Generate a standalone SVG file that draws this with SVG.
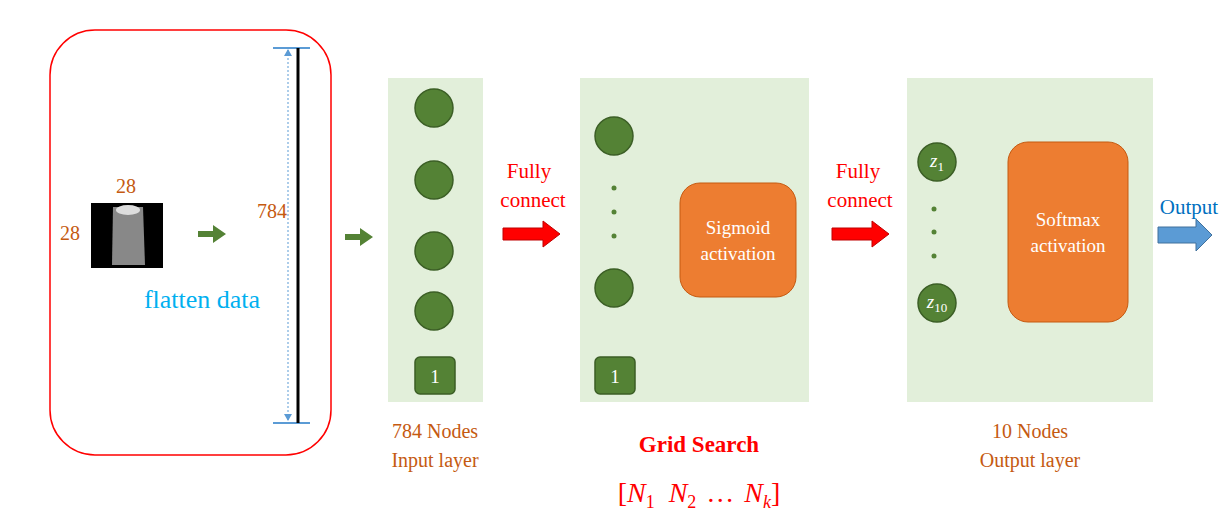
<svg xmlns="http://www.w3.org/2000/svg" width="1231" height="527" viewBox="0 0 1231 527">
<style>
text{font-family:"Liberation Serif",serif}
.or{fill:#c55a11;font-size:20px}
.panel{fill:#e2efda}
.node{fill:#548235;stroke:#3b5e25;stroke-width:1.5}
.wt{fill:#fff;font-size:19px}
.dot{fill:#548235}
.red{fill:#ff0000;stroke:#c00000;stroke-width:1}
.box{fill:#ed7d31;stroke:#c55a11;stroke-width:1}
</style>
<defs>
<marker id="ba" markerWidth="8" markerHeight="8" refX="7" refY="4" orient="auto" markerUnits="userSpaceOnUse"><path d="M0,0 L8,4 L0,8 z" fill="#0070c0"/></marker>
<marker id="da" markerWidth="10" markerHeight="10" refX="5" refY="5" orient="auto-start-reverse" markerUnits="userSpaceOnUse"><path d="M0,0 L5,10 L10,0 z" transform="rotate(0)" fill="#5b9bd5"/></marker>
</defs>
<g id="flatten">
<rect x="50" y="30" width="281" height="425" rx="45" fill="none" stroke="#ff0000" stroke-width="1.5"/>
<rect x="91" y="203" width="72" height="65" fill="#000"/>
<path d="M113,207 L143,207 L145,265 L112,265 Z" fill="#888"/>
<ellipse cx="128" cy="210" rx="12" ry="5" fill="#ddd"/>
<text x="126" y="193" class="or" text-anchor="middle">28</text>
<text x="70" y="240" class="or" text-anchor="middle">28</text>
<path d="M198,231 h15 v-6 l13,9 l-13,9 v-6 h-15 z" fill="#548235"/>
<text x="272" y="218" class="or" text-anchor="middle">784</text>
<text x="202" y="308" fill="#00b0f0" font-size="26" text-anchor="middle">flatten data</text>
<line x1="273" y1="48" x2="310" y2="48" stroke="#5b9bd5" stroke-width="2"/>
<line x1="273" y1="423" x2="310" y2="423" stroke="#5b9bd5" stroke-width="2"/>
<line x1="288" y1="50" x2="288" y2="421" stroke="#5b9bd5" stroke-width="1" stroke-dasharray="2,2"/>
<path d="M284,56 L288,49 L292,56 Z M284,414 L288,421 L292,414 Z" fill="#5b9bd5"/>
<line x1="298" y1="48" x2="298" y2="423" stroke="#000" stroke-width="3"/>
</g>
<g id="connectors">
<path d="M345,234 h15 v-6 l13,9 l-13,9 v-6 h-15 z" fill="#548235"/>
<path d="M503,228 h40 v-7 l17,13 l-17,13 v-7 h-40 z" class="red"/>
<path d="M832,228 h40 v-7 l17,13 l-17,13 v-7 h-40 z" class="red"/>
<path d="M656,233 h8 v-6 l10,9 l-10,9 v-6 h-8 z" fill="#000"/>
<line x1="958" y1="162" x2="1007" y2="162" stroke="#0070c0" marker-end="url(#ba)"/>
<line x1="958" y1="232" x2="1007" y2="232" stroke="#0070c0" marker-end="url(#ba)"/>
<line x1="958" y1="303" x2="1007" y2="303" stroke="#0070c0" marker-end="url(#ba)"/>
<path d="M1158,227 h38 v-8 l16,16 l-16,16 v-8 h-38 z" fill="#5b9bd5" stroke="#41719c"/>
<text x="529" y="178" fill="#ff0000" font-size="21" text-anchor="middle">Fully</text>
<text x="533" y="207" fill="#ff0000" font-size="21" text-anchor="middle">connect</text>
<text x="858" y="178" fill="#ff0000" font-size="21" text-anchor="middle">Fully</text>
<text x="860" y="207" fill="#ff0000" font-size="21" text-anchor="middle">connect</text>
<text x="1189" y="214" fill="#0070c0" font-size="21" text-anchor="middle">Output</text>
</g>
<g id="input-layer">
<rect x="388" y="78" width="95" height="324" class="panel"/>
<circle cx="434" cy="108" r="19" class="node"/>
<circle cx="434" cy="180" r="19" class="node"/>
<circle cx="434" cy="251" r="19" class="node"/>
<circle cx="434" cy="311" r="19" class="node"/>
<rect x="415" y="357" width="40" height="37" rx="5" class="node"/>
<text x="435" y="383" class="wt" text-anchor="middle">1</text>
<text x="435" y="438" class="or" text-anchor="middle">784 Nodes</text>
<text x="435" y="467" class="or" text-anchor="middle">Input layer</text>
</g>
<g id="hidden-layer">
<rect x="580" y="78" width="229" height="324" class="panel"/>
<circle cx="614" cy="136" r="19" class="node"/>
<circle cx="614" cy="288" r="19" class="node"/>
<circle cx="614" cy="188" r="2.5" class="dot"/>
<circle cx="614" cy="212" r="2.5" class="dot"/>
<circle cx="614" cy="236" r="2.5" class="dot"/>
<rect x="595" y="357" width="40" height="37" rx="5" class="node"/>
<text x="615" y="383" class="wt" text-anchor="middle">1</text>
<rect x="680" y="183" width="116" height="114" rx="20" class="box"/>
<text x="738" y="234" class="wt" text-anchor="middle">Sigmoid</text>
<text x="738" y="260" class="wt" text-anchor="middle">activation</text>
<text x="699" y="452" fill="#ff0000" font-size="23" font-weight="bold" text-anchor="middle">Grid Search</text>
<text x="699" y="502" fill="#ff0000" font-size="28" text-anchor="middle">[<tspan font-style="italic">N</tspan><tspan font-size="18" dy="6">1</tspan><tspan dy="-6" dx="14" font-style="italic">N</tspan><tspan font-size="18" dy="6">2</tspan><tspan dy="-6" dx="10">…</tspan><tspan dx="10" font-style="italic">N</tspan><tspan font-size="18" dy="6" font-style="italic">k</tspan><tspan dy="-6">]</tspan></text>
</g>
<g id="output-layer">
<rect x="907" y="78" width="246" height="324" class="panel"/>
<circle cx="937" cy="162" r="19" class="node"/>
<text x="937" y="167" class="wt" text-anchor="middle" font-style="italic">z<tspan font-size="13" dy="4" font-style="normal">1</tspan></text>
<circle cx="937" cy="303" r="19" class="node"/>
<text x="937" y="308" class="wt" text-anchor="middle" font-style="italic">z<tspan font-size="13" dy="4" font-style="normal">10</tspan></text>
<circle cx="934" cy="209" r="2.5" class="dot"/>
<circle cx="934" cy="232" r="2.5" class="dot"/>
<circle cx="934" cy="256" r="2.5" class="dot"/>
<rect x="1008" y="142" width="120" height="180" rx="20" class="box"/>
<text x="1068" y="226" class="wt" text-anchor="middle">Softmax</text>
<text x="1068" y="252" class="wt" text-anchor="middle">activation</text>
<text x="1030" y="438" class="or" text-anchor="middle">10 Nodes</text>
<text x="1030" y="467" class="or" text-anchor="middle">Output layer</text>
</g>
</svg>
